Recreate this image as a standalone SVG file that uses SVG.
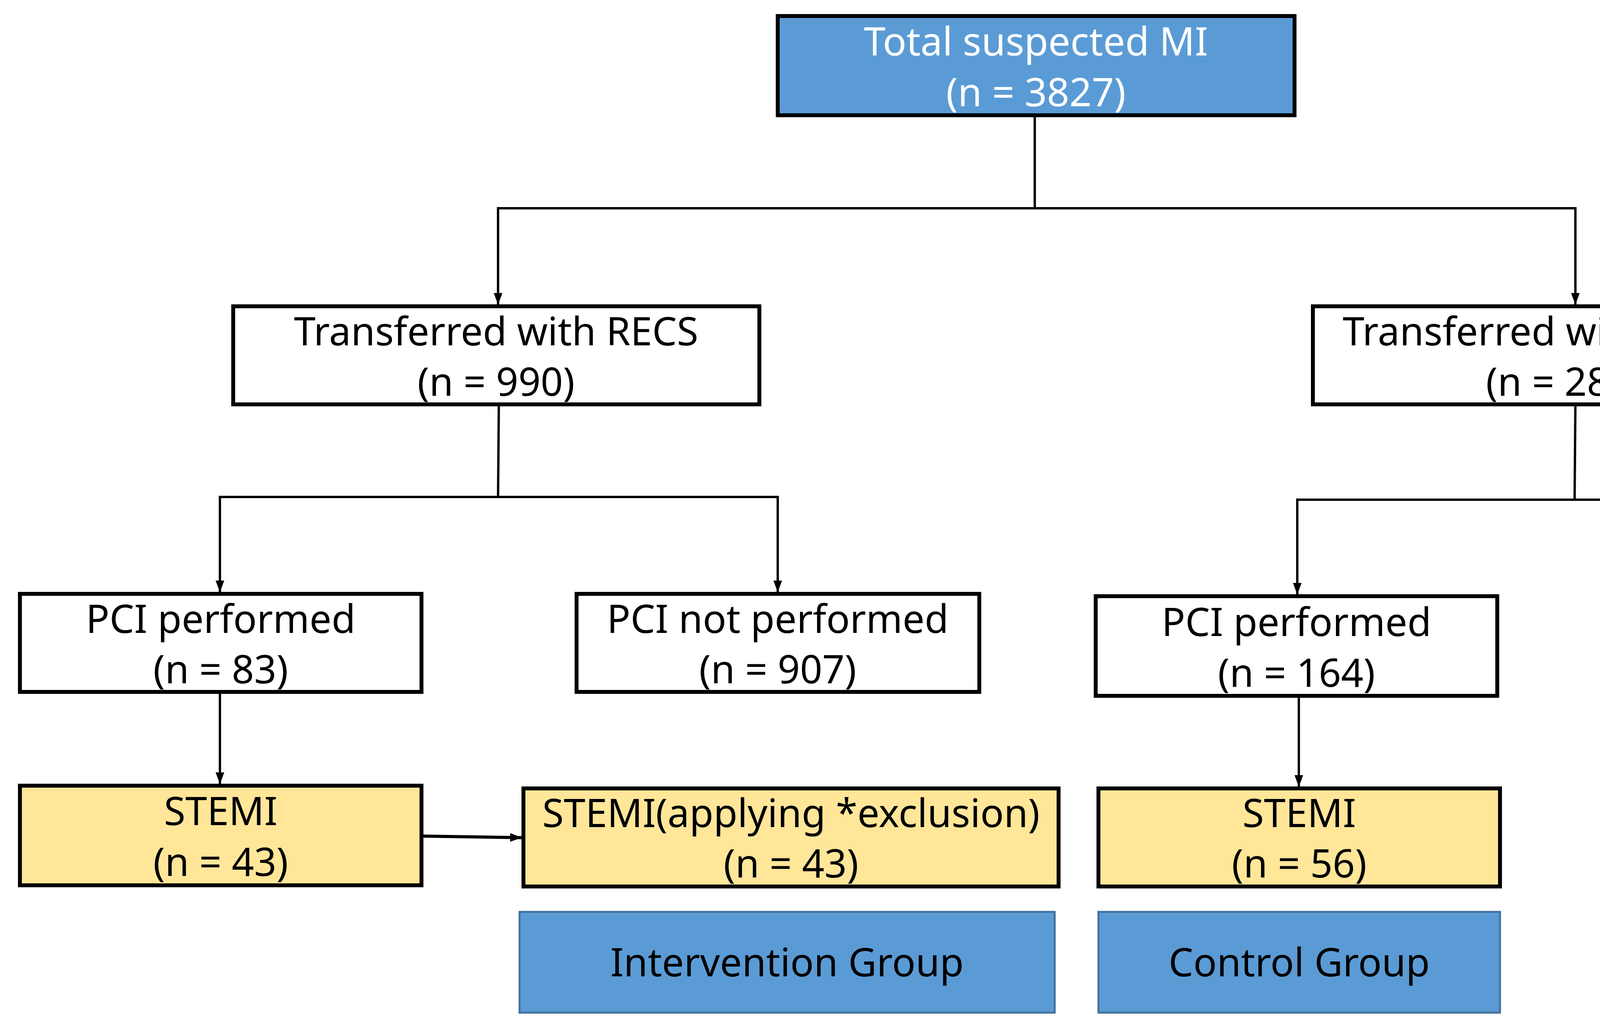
<svg xmlns="http://www.w3.org/2000/svg" width="5315" height="2621" viewBox="0 0 5315 2621">
<defs>
<style>
.b{fill:#fff;stroke:#000;stroke-width:10}
.y{fill:#ffe699;stroke:#000;stroke-width:10}
.t{fill:#5b9bd5;stroke:#000;stroke-width:10}
.g{fill:#5b9bd5;stroke:#41719c;stroke-width:5}
text{font-family:"Noto Sans","DejaVu Sans",sans-serif;font-size:100px;text-anchor:middle;fill:#000}
.w{fill:#fff}
.c line{stroke:#000;stroke-width:6;fill:none}
</style>
<marker id="a" markerWidth="32" markerHeight="26" refX="30" refY="13" markerUnits="userSpaceOnUse" orient="auto"><path d="M0,2L30,13L0,24z" fill="#000"/></marker>
</defs>
<g class="c">
<line x1="2649" y1="295" x2="2649" y2="533"/>
<line x1="1272" y1="533" x2="4036" y2="533"/>
<line x1="1275" y1="533" x2="1275" y2="780" marker-end="url(#a)"/>
<line x1="4033" y1="533" x2="4033" y2="780" marker-end="url(#a)"/>
<line x1="1277" y1="1035" x2="1275" y2="1272"/>
<line x1="560" y1="1272" x2="1994" y2="1272"/>
<line x1="563" y1="1272" x2="563" y2="1516" marker-end="url(#a)"/>
<line x1="1991" y1="1272" x2="1991" y2="1516" marker-end="url(#a)"/>
<line x1="4033" y1="1035" x2="4031" y2="1279"/>
<line x1="3318" y1="1279" x2="4755" y2="1279"/>
<line x1="3321" y1="1279" x2="3321" y2="1522" marker-end="url(#a)"/>
<line x1="4752" y1="1279" x2="4752" y2="1522" marker-end="url(#a)"/>
<line x1="563" y1="1771" x2="563" y2="2007" marker-end="url(#a)"/>
<line x1="3325" y1="1781" x2="3325" y2="2014" marker-end="url(#a)"/>
<line x1="1079" y1="2140" x2="1336" y2="2144" marker-end="url(#a)" style="stroke-width:8"/>
</g>
<g id="n1"><rect class="t" x="1991" y="41" width="1323" height="254"/><text class="w" x="2652" y="142">Total suspected MI</text><text class="w" x="2652" y="272">(n = 3827)</text></g>
<g id="n2"><rect class="b" x="597" y="784" width="1347" height="251"/><text x="1270" y="884">Transferred with RECS</text><text x="1270" y="1013">(n = 990)</text></g>
<g id="n3"><rect class="b" x="3361" y="784" width="1347" height="251"/><text x="4034" y="884">Transferred without RECS</text><text x="4034" y="1013">(n = 2827)</text></g>
<g id="n4"><rect class="b" x="51" y="1520" width="1028" height="251"/><text x="565" y="1620">PCI performed</text><text x="565" y="1749">(n = 83)</text></g>
<g id="n5"><rect class="b" x="1476" y="1520" width="1031" height="251"/><text x="1991" y="1620">PCI not performed</text><text x="1991" y="1749">(n = 907)</text></g>
<g id="n6"><rect class="b" x="2805" y="1526" width="1028" height="255"/><text x="3319" y="1628">PCI performed</text><text x="3319" y="1758">(n = 164)</text></g>
<g id="n7"><rect class="b" x="4237" y="1526" width="1031" height="255"/><text x="4752" y="1628">PCI not performed</text><text x="4752" y="1758">(n = 2663)</text></g>
<g id="n8"><rect class="y" x="51" y="2011" width="1028" height="255"/><text x="565" y="2112">STEMI</text><text x="565" y="2242">(n = 43)</text></g>
<g id="n9"><rect class="y" x="1340" y="2018" width="1370" height="251"/><text x="2025" y="2117">STEMI(applying *exclusion)</text><text x="2025" y="2246">(n = 43)</text></g>
<g id="n10"><rect class="y" x="2812" y="2018" width="1028" height="251"/><text x="3326" y="2117">STEMI</text><text x="3326" y="2246">(n = 56)</text></g>
<g id="n11"><rect class="g" x="1330" y="2334" width="1370" height="258"/><text x="2015" y="2499">Intervention Group</text></g>
<g id="n12"><rect class="g" x="2812" y="2334" width="1028" height="258"/><text x="3326" y="2499">Control Group</text></g>
</svg>
